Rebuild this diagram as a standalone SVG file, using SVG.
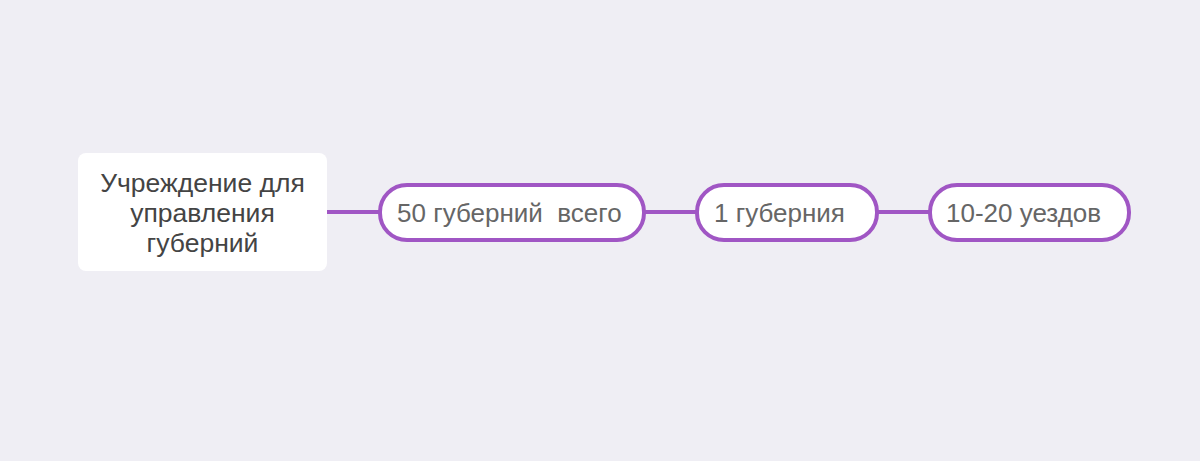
<svg xmlns="http://www.w3.org/2000/svg" width="1200" height="461" viewBox="0 0 1200 461">
<style>
.bg{fill:#efeef4}
.pill{fill:#ffffff;stroke:#a056c4;stroke-width:4}
.root{fill:#ffffff}
.t{font-family:"Liberation Sans",Arial,sans-serif;font-size:26px;fill:#666666}
.rt{font-family:"Liberation Sans",Arial,sans-serif;font-size:26.5px;fill:#444444;text-anchor:middle}
.c{stroke:#a056c4;stroke-width:4;fill:none}
</style>
<rect class="bg" x="0" y="0" width="1200" height="461"/>
<g id="connectors">
<line class="c" x1="327" y1="212" x2="380" y2="212"/>
<line class="c" x1="644" y1="212" x2="697" y2="212"/>
<line class="c" x1="877" y1="212" x2="930" y2="212"/>
</g>
<g id="root">
<rect class="root" x="78" y="153" width="249" height="118" rx="8"/>
<text class="rt" x="202.5" y="192">Учреждение для</text>
<text class="rt" x="202.5" y="222">управления</text>
<text class="rt" x="202.5" y="252">губерний</text>
</g>
<g id="n1">
<rect class="pill" x="380" y="185" width="264" height="55" rx="27"/>
<text class="t" x="397" y="222" xml:space="preserve">50 губерний  всего</text>
</g>
<g id="n2">
<rect class="pill" x="697" y="185" width="180" height="55" rx="27"/>
<text class="t" x="714" y="222">1 губерния</text>
</g>
<g id="n3">
<rect class="pill" x="930" y="185" width="199" height="55" rx="27"/>
<text class="t" x="946" y="222">10-20 уездов</text>
</g>
</svg>
